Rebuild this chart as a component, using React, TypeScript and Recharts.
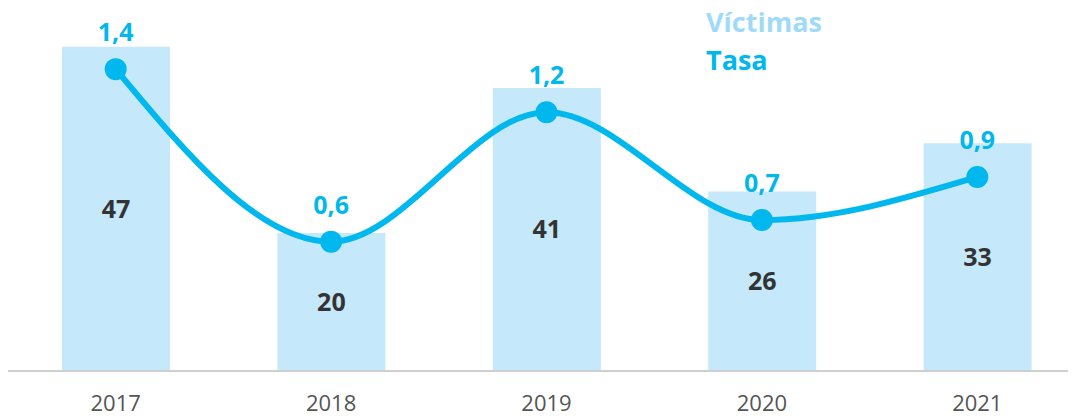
import { ComposedChart, Bar, Line, XAxis, YAxis, LabelList, Legend } from "recharts"

const years = ["2017", "2018", "2019", "2020", "2021"]
const victimas = [47, 20, 41, 26, 33]
const tasa = [1.4, 0.6, 1.2, 0.7, 0.9]

const data = years.map((year, i) => ({ year, victimas: victimas[i], tasa: tasa[i] }))

const BAR = "#c6e8fb"
const LINE = "#00b7ee"
const FONT = "'Open Sans', 'Noto Sans', sans-serif"

const fmt = (v: any) => String(v).replace(".", ",")

function LegendBox() {
  return (
    <div style={{ fontFamily: FONT, fontWeight: 700, fontSize: 27, lineHeight: "38px" }}>
      <div style={{ color: "#9fdbf8" }}>Víctimas</div>
      <div style={{ color: LINE }}>Tasa</div>
    </div>
  )
}

export default function App() {
  // the last bar runs off the right edge, so the plot is a bit wider than the svg
  return (
    <ComposedChart width={1068} height={408} data={data} margin={{ top: 18, right: -9, bottom: 0, left: 0 }}>
      <XAxis
        dataKey="year"
        tickLine={false}
        axisLine={{ stroke: "#cfcfcf", strokeWidth: 2 }}
        tick={{ fill: "#555", fontSize: 22, fontFamily: FONT }}
        tickMargin={18}
        height={45}
      />
      <YAxis yAxisId="left" domain={[0, 50]} hide />
      <YAxis yAxisId="right" orientation="right" domain={[0, 1.6]} hide />
      <Legend
        layout="vertical"
        align="center"
        verticalAlign="middle"
        content={() => <LegendBox />}
        wrapperStyle={{ top: -5, left: 698, width: 200 }}
      />
      <Bar yAxisId="left" dataKey="victimas" fill={BAR} barSize={108} isAnimationActive={false}>
        <LabelList
          dataKey="victimas"
          position="center"
          fill="#333"
          fontSize={25}
          fontWeight={700}
          fontFamily={FONT}
        />
      </Bar>
      <Line
        yAxisId="right"
        type="monotone"
        dataKey="tasa"
        stroke={LINE}
        strokeWidth={6}
        dot={{ r: 11, fill: LINE, stroke: "none" }}
        isAnimationActive={false}
      >
        <LabelList
          dataKey="tasa"
          position="top"
          offset={28}
          formatter={fmt}
          fill={LINE}
          fontSize={25}
          fontWeight={700}
          fontFamily={FONT}
        />
      </Line>
    </ComposedChart>
  )
}
